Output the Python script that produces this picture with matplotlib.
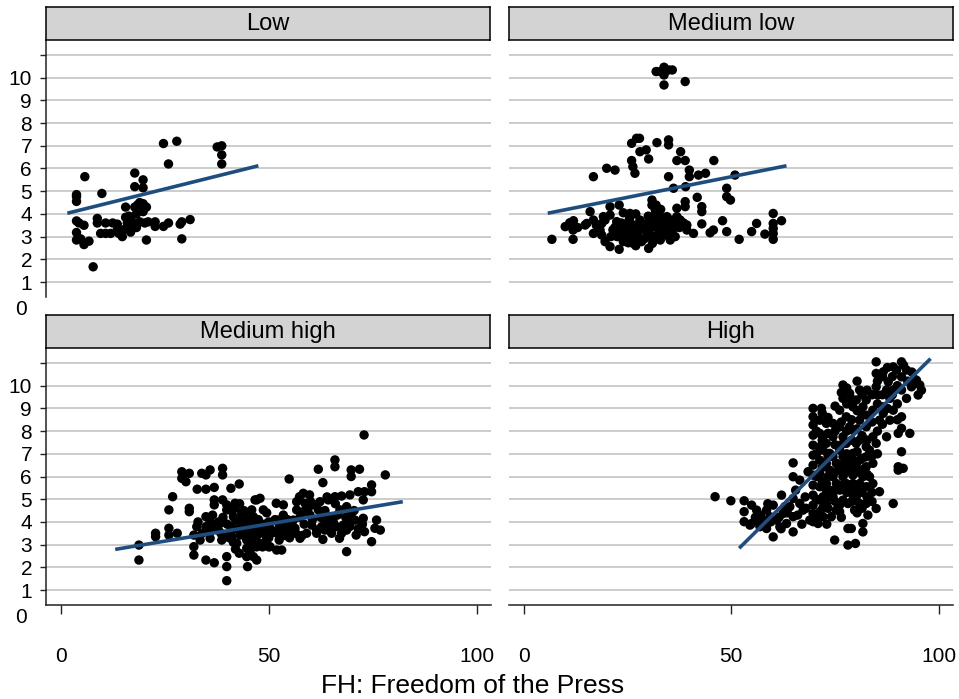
import numpy as np
import matplotlib
matplotlib.use("Agg")
import matplotlib.pyplot as plt

plt.rcParams["font.family"] = ["Liberation Sans", "DejaVu Sans"]

# panel titles
panels = ["Low", "Medium low", "Medium high", "High"]

# scatter points (FH press score, outcome)
low_pts = [
    (3.8, 4.76), (3.8, 4.55), (3.8, 4.85), (5.8, 5.64), (3.8, 3.69), (3.8, 3.18),
    (3.8, 2.85), (4.8, 2.9), (5.6, 2.65), (6.8, 2.8), (5.6, 3.5), (4.4, 3.6),
    (7.8, 1.67), (8.8, 3.8), (8.8, 3.6), (9.9, 4.9), (9.6, 3.14), (10.8, 3.14),
    (12.0, 3.14), (10.8, 3.6), (13.6, 3.55), (13.6, 3.3), (14.0, 3.14), (14.8, 3.0),
    (15.6, 4.3), (15.6, 3.85), (16.0, 3.6), (16.4, 3.9), (16.8, 3.2), (16.8, 3.4),
    (17.8, 5.8), (17.8, 5.2), (17.8, 4.3), (18.2, 4.0), (18.2, 3.4), (19.0, 4.5),
    (19.8, 5.5), (19.8, 5.15), (19.8, 4.45), (19.8, 4.1), (20.6, 4.3), (20.2, 3.6),
    (21.0, 3.65), (20.6, 2.85), (22.7, 3.65), (22.7, 3.45), (24.7, 7.1), (27.9, 7.2),
    (25.9, 6.2), (24.7, 3.45), (25.9, 3.6), (28.7, 3.55), (29.1, 3.65), (29.1, 2.9),
    (31.1, 3.75), (37.6, 6.95), (38.7, 7.0), (38.7, 6.6), (38.7, 6.2), (15.0, 3.3),
    (17.0, 3.7), (19.0, 3.65), (18.5, 4.4), (12.5, 3.6),
]

mlow_pts = [
    (31.9, 10.27), (33.8, 10.46), (33.8, 10.12), (35.8, 10.34), (34.9, 10.34),
    (32.9, 10.27), (33.8, 9.68), (38.9, 9.83), (26.0, 7.11), (27.2, 7.33),
    (27.9, 7.33), (32.1, 7.14), (34.9, 7.26), (34.9, 7.04), (28.0, 6.74),
    (29.5, 6.82), (30.1, 6.42), (26.0, 6.35), (26.3, 6.08), (26.8, 5.79),
    (37.8, 6.74), (36.9, 6.35), (38.9, 6.35), (45.8, 6.35), (20.0, 6.01),
    (22.0, 5.93), (16.8, 5.64), (39.9, 5.93), (39.9, 5.64), (42.1, 5.71),
    (43.8, 5.79), (34.9, 5.64), (50.9, 5.71), (39.0, 5.2), (36.1, 5.13),
    (48.9, 5.13), (48.9, 4.76), (49.8, 4.61), (41.8, 4.73), (30.9, 4.61),
    (30.9, 4.39), (31.9, 4.39), (38.9, 4.54), (38.9, 4.32), (36.9, 4.25),
    (42.9, 4.32), (42.9, 4.1), (20.8, 4.32), (23.0, 4.39), (16.0, 4.1),
    (24.0, 4.05), (25.6, 4.02), (31.7, 3.95), (36.9, 3.88), (42.9, 3.56),
    (47.9, 3.7), (60.1, 4.02), (62.1, 3.7), (60.1, 3.58), (56.1, 3.58),
    (54.9, 3.22), (58.1, 3.11), (60.1, 3.36), (60.1, 3.14), (60.1, 2.88),
    (51.9, 2.88), (48.9, 3.22), (45.7, 3.29), (44.9, 3.17), (40.9, 3.14),
    (39.3, 3.29), (37.7, 3.44), (36.1, 3.73), (34.5, 3.88), (32.9, 3.58),
    (31.3, 3.73), (29.7, 3.58), (28.0, 3.73), (26.4, 3.51), (24.8, 3.58),
    (23.6, 3.36), (22.4, 3.66), (20.8, 3.95), (19.6, 3.73), (18.8, 3.58),
    (16.8, 3.73), (14.8, 3.51), (11.1, 3.61), (10.0, 3.44), (11.9, 3.29),
    (11.9, 2.88), (6.8, 2.88), (16.8, 3.14), (18.8, 3.07), (19.6, 2.78),
    (20.8, 2.56), (23.0, 2.44), (22.0, 3.41), (23.2, 3.0), (24.4, 3.14),
    (25.6, 2.92), (26.4, 2.7), (27.6, 3.22), (28.4, 2.78), (29.7, 3.14),
    (30.1, 2.48), (31.3, 3.0), (32.5, 3.29), (32.9, 2.85), (34.1, 3.07),
    (34.9, 3.44), (35.3, 2.85), (36.1, 3.36), (36.9, 3.58), (25.6, 3.29),
    (27.2, 3.44), (28.9, 3.36), (30.5, 3.36), (32.1, 3.44), (33.7, 3.58),
    (31.7, 4.17), (32.9, 3.88), (35.3, 3.73), (37.7, 3.73), (39.3, 3.51),
    (24.0, 2.78), (25.2, 2.73), (22.8, 3.22), (18.4, 3.29), (19.2, 3.88),
    (15.2, 3.58),
    (21.5, 3.3), (22.5, 3.0), (23.5, 3.6), (24.5, 3.4), (25.5, 3.8), (26.5, 3.2),
    (27.5, 3.0), (28.5, 3.5), (29.5, 3.3), (30.5, 3.0), (31.5, 3.5), (32.5, 3.1),
    (33.5, 3.3), (34.5, 3.6), (35.5, 3.2), (36.5, 3.0), (37.5, 3.4), (38.5, 3.6),
    (27.0, 2.6), (29.0, 2.9), (31.0, 2.7), (33.0, 4.2), (30.0, 3.9), (27.0, 4.0),
    (21.0, 3.0), (17.5, 3.5), (13.0, 3.4), (12.0, 3.7),
]

mhigh_pts = [
    (18.8, 2.98), (18.8, 2.32), (22.8, 3.50), (22.8, 3.35), (26.0, 4.53),
    (26.9, 5.11), (26.0, 3.72), (26.0, 3.42), (28.0, 3.50), (29.1, 6.21),
    (29.1, 5.92), (30.1, 5.77), (30.9, 6.14), (30.9, 4.60), (30.9, 4.45),
    (32.8, 5.44), (33.9, 6.14), (34.9, 6.07), (34.9, 5.44), (35.9, 6.29),
    (36.9, 5.52), (38.9, 6.36), (38.9, 6.07), (40.9, 5.48), (42.9, 5.67),
    (32.0, 3.42), (32.0, 2.91), (32.0, 2.54), (32.7, 3.79), (34.9, 4.23),
    (34.9, 2.32), (36.9, 2.20), (34.9, 3.79), (35.9, 4.01), (36.9, 4.97),
    (36.9, 4.75), (37.9, 3.64), (38.9, 4.97), (39.9, 4.75), (39.9, 4.53),
    (39.9, 2.47), (39.9, 2.03), (39.9, 1.41), (41.9, 4.82), (41.9, 4.60),
    (42.9, 2.62), (44.9, 2.03), (44.9, 4.08), (43.1, 4.08), (38.3, 3.94),
    (41.1, 3.79), (41.1, 3.35), (43.1, 3.42), (44.7, 3.20), (44.7, 2.84),
    (44.7, 2.47), (45.9, 3.79), (45.9, 4.53), (47.1, 4.97), (47.1, 2.91),
    (47.1, 2.32), (39.5, 3.42), (41.5, 4.23), (43.5, 4.38), (46.3, 4.23),
    (37.5, 3.72), (35.9, 3.28), (33.5, 3.20), (38.7, 3.20), (42.3, 3.06),
    (44.7, 3.64),
    (72.9, 7.83), (65.9, 6.73), (65.9, 6.43), (61.9, 6.32), (69.8, 6.29),
    (69.8, 6.0), (71.8, 6.32), (78.0, 6.07), (54.9, 5.89), (63.0, 5.73),
    (74.7, 5.63), (74.7, 5.33), (73.0, 5.33), (71.5, 5.33), (69.5, 5.19),
    (67.5, 5.14), (65.9, 5.11), (64.3, 4.97), (62.3, 4.89), (61.1, 4.75),
    (59.8, 5.19), (58.3, 5.26), (57.4, 5.11), (56.7, 4.89), (58.7, 4.82),
    (56.7, 4.53), (58.3, 4.45), (59.9, 4.30), (61.9, 4.53), (63.1, 4.38),
    (64.7, 4.23), (67.1, 4.53), (68.7, 4.67), (69.9, 4.38), (69.1, 4.08),
    (67.9, 3.86), (66.3, 3.79), (63.9, 4.01), (62.7, 3.79), (61.5, 3.64),
    (60.3, 3.86), (59.1, 3.50), (57.5, 3.28), (55.9, 4.08), (55.1, 3.64),
    (53.5, 4.30), (52.3, 4.08), (51.8, 4.82), (53.5, 4.75), (51.5, 3.57),
    (50.3, 3.72), (49.5, 3.35), (48.7, 4.53), (47.9, 5.04), (46.7, 4.97),
    (47.1, 3.94), (47.9, 3.50), (47.1, 2.91), (46.3, 2.47), (50.3, 2.91),
    (51.9, 2.76), (53.1, 2.76), (63.0, 3.23), (67.0, 3.28), (68.7, 2.69),
    (71.0, 3.42), (72.7, 4.16), (73.0, 3.57), (74.7, 3.13), (75.9, 4.08),
    (76.8, 3.64), (75.5, 3.72), (72.7, 4.97), (70.7, 4.08), (68.7, 3.64),
    (65.1, 3.50), (63.5, 3.64), (56.3, 3.72), (54.3, 3.86),
    (45.0, 3.7), (46.0, 3.5), (47.0, 3.6), (48.0, 3.8), (49.0, 3.9),
    (50.0, 4.0), (51.0, 3.6), (52.0, 3.5), (53.0, 3.8), (54.0, 3.4),
    (49.0, 3.1), (50.0, 3.3), (47.0, 3.2), (46.0, 4.2), (44.0, 3.9),
    (43.0, 3.6), (42.0, 4.1), (41.0, 3.6), (40.0, 3.9), (39.0, 4.2),
    (38.0, 4.0), (37.0, 3.9), (36.0, 3.6), (44.0, 4.5), (45.0, 4.3),
    (40.5, 3.3), (41.5, 3.1), (42.5, 3.7), (43.5, 4.0), (44.5, 3.5), (45.5, 3.9),
    (46.5, 3.3), (47.5, 4.1), (48.5, 3.6), (49.5, 4.4), (50.5, 3.5), (51.5, 4.1),
    (52.5, 3.9), (53.5, 3.5), (54.5, 4.1), (55.5, 3.9), (56.5, 3.5), (57.5, 4.2),
    (58.5, 3.9), (59.5, 4.6), (60.5, 4.1), (61.5, 3.5), (62.5, 4.2), (63.5, 4.5),
    (64.5, 3.7), (65.5, 4.0), (66.5, 4.3), (67.5, 3.5), (68.5, 4.2), (69.5, 3.8),
    (70.5, 4.5), (71.5, 3.7), (72.5, 3.9), (66.0, 4.8), (64.0, 5.1), (60.0, 4.9),
    (42.0, 2.8), (45.5, 2.7), (48.5, 2.9), (41.0, 4.5), (43.0, 4.8), (38.5, 3.5),
    (36.5, 4.3), (34.0, 3.5), (33.0, 4.0), (46.0, 3.0), (50.0, 2.9), (52.5, 3.2),
    (55.0, 3.3), (58.0, 3.4),
]

high_pts = [
    (46.1, 5.11), (49.9, 4.93), (53.1, 4.93), (53.1, 4.45), (53.1, 4.01),
    (54.9, 4.74), (54.9, 3.93), (56.1, 4.52), (56.9, 3.79), (58.5, 4.52),
    (60.1, 4.74), (60.1, 3.34), (62.1, 5.18), (60.9, 4.08), (62.5, 4.37),
    (63.3, 3.93), (64.9, 6.60), (64.9, 5.99), (64.9, 5.03), (64.9, 4.23),
    (64.9, 3.56), (66.5, 4.81), (66.5, 5.84), (68.5, 6.21), (57.7, 4.08),
    (59.3, 4.23), (56.1, 4.08), (54.5, 3.86), (58.5, 3.71), (61.7, 3.78),
    (62.9, 4.67), (64.1, 4.67), (67.3, 4.52), (68.9, 4.08),
    (69.7, 9.0), (69.7, 8.63), (69.7, 8.27), (69.7, 7.82), (69.7, 7.38),
    (69.7, 6.94), (69.7, 6.50), (69.7, 6.06), (69.7, 5.62), (69.7, 5.18),
    (69.7, 4.74), (69.7, 4.37), (69.7, 4.01), (71.7, 9.0), (71.3, 8.48),
    (71.3, 7.90), (71.3, 7.31), (71.3, 6.72), (71.3, 6.13), (71.3, 5.55),
    (71.3, 4.96), (71.3, 4.45), (72.9, 8.34), (72.9, 7.46), (72.9, 6.58),
    (72.9, 5.69), (72.9, 4.81), (74.1, 4.23), (74.5, 7.75), (74.5, 6.87),
    (74.5, 5.99), (74.5, 5.11), (74.9, 3.2), (76.1, 8.92), (76.1, 8.19),
    (76.1, 7.16), (76.1, 6.28), (76.1, 5.40), (76.1, 4.45), (76.9, 10.03),
    (76.9, 9.44), (77.7, 8.63), (77.7, 7.46), (77.7, 6.58), (77.7, 5.69),
    (78.1, 4.81), (78.1, 3.71), (78.1, 2.98), (78.9, 3.71), (79.9, 3.05),
    (78.5, 9.66), (79.3, 9.07), (79.3, 8.04), (79.3, 7.02), (79.3, 6.06),
    (79.3, 5.18), (79.7, 4.52), (80.9, 9.81), (80.9, 8.48), (80.9, 7.60),
    (80.9, 6.72), (80.9, 5.69), (80.9, 4.81), (81.7, 3.93), (81.7, 3.56),
    (82.5, 9.37), (82.5, 8.19), (82.5, 7.31), (82.5, 6.43), (82.5, 5.55),
    (82.9, 4.30), (84.1, 8.92), (84.1, 7.75), (84.1, 6.58), (83.3, 5.99),
    (84.9, 11.05), (84.9, 10.54), (84.9, 9.95), (85.3, 9.59), (84.9, 4.59),
    (85.7, 5.33), (85.7, 8.48), (86.6, 10.61), (86.6, 9.07), (86.6, 8.78),
    (87.8, 10.17), (88.2, 9.44), (89.0, 8.92), (89.0, 4.81), (89.8, 10.69),
    (90.2, 7.90), (90.2, 6.43), (90.2, 6.28), (91.0, 11.05), (91.0, 10.39),
    (91.0, 9.81), (91.0, 8.63), (91.0, 8.12), (91.0, 7.09), (91.4, 6.36),
    (92.2, 10.69), (92.2, 9.44), (93.0, 7.90), (93.4, 9.95), (94.6, 10.24),
    (95.4, 10.03), (95.0, 9.59), (89.0, 10.83), (87.4, 9.81), (89.0, 9.81),
    (88.2, 8.48), (87.4, 7.75), (84.9, 7.46), (83.3, 7.16), (82.5, 6.87),
    (80.1, 9.37), (81.7, 9.07), (76.9, 6.87), (75.3, 5.69), (73.7, 5.40),
    (72.1, 5.11), (80.1, 5.11), (79.3, 5.69), (76.9, 4.96), (75.3, 4.52),
    (72.1, 4.23), (82.5, 4.81), (81.7, 5.99), (84.1, 5.69), (72.1, 7.75),
    (72.1, 7.16), (74.5, 8.34), (76.9, 7.75), (78.5, 8.19), (80.1, 7.46),
    (80.1, 6.58), (76.9, 5.99), (75.3, 6.58), (73.7, 6.28), (73.7, 7.02),
    (72.9, 5.40), (70.9, 3.93), (76.1, 4.74),
    (70.5, 8.0), (70.5, 7.0), (70.5, 6.0), (70.5, 5.0), (71.9, 8.8), (71.9, 7.6),
    (71.9, 6.4), (71.9, 5.8), (73.3, 8.6), (73.3, 7.9), (73.3, 6.9), (73.3, 6.0),
    (73.3, 5.1), (73.3, 4.6), (75.0, 9.1), (75.0, 8.0), (75.0, 7.4), (75.0, 6.2),
    (75.0, 5.4), (75.0, 4.9), (76.5, 9.7), (76.5, 8.4), (76.5, 7.4), (76.5, 6.5),
    (76.5, 5.6), (76.5, 4.2), (77.8, 9.9), (77.8, 9.2), (77.8, 8.0), (77.8, 7.0),
    (77.8, 6.2), (77.8, 5.3), (79.0, 9.4), (79.0, 8.5), (79.0, 7.6), (79.0, 6.8),
    (79.0, 6.4), (79.0, 5.4), (79.0, 4.9), (80.3, 10.2), (80.3, 8.9), (80.3, 8.1),
    (80.3, 7.1), (80.3, 6.2), (80.3, 5.4), (80.3, 4.4), (81.5, 9.6), (81.5, 8.7),
    (81.5, 7.8), (81.5, 6.8), (81.5, 6.3), (81.5, 5.3), (81.5, 4.6), (82.7, 9.8),
    (82.7, 8.7), (82.7, 7.6), (82.7, 6.1), (82.7, 5.1), (83.9, 9.6), (83.9, 8.4),
    (83.9, 6.9), (83.9, 5.3), (83.9, 4.9), (85.2, 10.2), (85.2, 9.2), (85.2, 8.0),
    (85.2, 7.0), (86.4, 10.4), (86.4, 9.6), (86.4, 8.3), (87.6, 10.8), (87.6, 9.0),
    (88.8, 10.4), (88.8, 9.6), (90.0, 10.0), (90.0, 9.2), (90.0, 8.5), (91.5, 10.9),
    (92.5, 10.2), (93.5, 10.6), (94.0, 10.3), (95.8, 9.8), (57.0, 4.3), (58.0, 3.9),
    (59.5, 4.0), (61.5, 4.2), (63.5, 4.4), (62.0, 3.7), (55.8, 4.2), (58.8, 4.8),
    (65.5, 5.4), (67.8, 5.1), (68.0, 4.6), (67.0, 3.9), (66.0, 4.3), (70.4, 4.2),
    (72.0, 4.6), (73.0, 3.9),
]

# fitted line endpoints per panel
fit_x = [(1.6, 47.5), (5.8, 63.3), (13.1, 82.2), (51.9, 98.0)]
fit_y = [(4.03, 6.12), (4.03, 6.12), (2.79, 4.89), (2.84, 11.19)]

y_ticks = list(range(1, 12))
y_labels = [str(v) for v in range(1, 11)] + [""]
x_ticks = [0, 50, 100]

W, H = 959, 699
fig = plt.figure(figsize=(W / 100, H / 100), dpi=100)


def fx(px):
    return px / W


def fy(py):
    return 1 - py / H


# axes boxes in pixels: (left, right, top, bottom)
boxes = [(46, 491, 40, 297), (509, 953, 40, 297),
         (46, 491, 348, 605), (509, 953, 348, 605)]
strips = [(46, 490, 7, 40), (509, 953, 7, 40),
          (46, 490, 315, 348), (509, 953, 315, 348)]
all_pts = [low_pts, mlow_pts, mhigh_pts, high_pts]

for i, name in enumerate(panels):
    l, r, t, b = boxes[i]
    ax = fig.add_axes([fx(l), fy(b), fx(r - l), (b - t) / H])
    ax.set_xlim(-3.53, 103.4)
    ax.set_ylim(0.34, 11.66)
    for v in y_ticks:
        ax.axhline(v, color="#c8c8c8", lw=1.3, zorder=0)
    pts = np.array(all_pts[i])
    ax.scatter(pts[:, 0], pts[:, 1], s=46, color="black", edgecolors="none", zorder=2)
    ax.plot(fit_x[i], fit_y[i], color="#1f4e7e", lw=2.6, zorder=3,
            solid_capstyle="butt")
    for s in ["top", "right"]:
        ax.spines[s].set_visible(False)
    left_col = i in (0, 2)
    bottom_row = i in (2, 3)
    if left_col:
        ax.spines["left"].set_color("#222222")
        ax.spines["left"].set_linewidth(1.1)
        ax.set_yticks(y_ticks)
        ax.set_yticklabels(y_labels)
        ax.tick_params(axis="y", length=4.5, width=1.0, pad=5.5, labelsize=15,
                       color="#222222")
        # the "0" label sits below the axis range
        ax.text(-8.2, -0.2, "0", ha="right", va="center", fontsize=15,
                clip_on=False)
    else:
        ax.spines["left"].set_visible(False)
        ax.set_yticks([])
    if bottom_row:
        ax.spines["bottom"].set_color("#222222")
        ax.spines["bottom"].set_linewidth(1.1)
        ax.set_xticks(x_ticks)
        ax.tick_params(axis="x", length=6.5, width=1.0, pad=24, labelsize=15,
                       color="#222222")
    else:
        ax.spines["bottom"].set_visible(False)
        ax.set_xticks([])

    sl, sr, st, sb = strips[i]
    sax = fig.add_axes([fx(sl), fy(sb), fx(sr - sl), (sb - st) / H])
    sax.set_facecolor("#d3d3d3")
    sax.set_xticks([])
    sax.set_yticks([])
    for s in sax.spines.values():
        s.set_color("black")
        s.set_linewidth(1.1)
    sax.text(0.5, 0.5, name, ha="center", va="center", fontsize=17,
             transform=sax.transAxes)

fig.text(fx(473), fy(686), "FH: Freedom of the Press", ha="center",
         va="center", fontsize=19)

fig.savefig("out.png", dpi=100)
